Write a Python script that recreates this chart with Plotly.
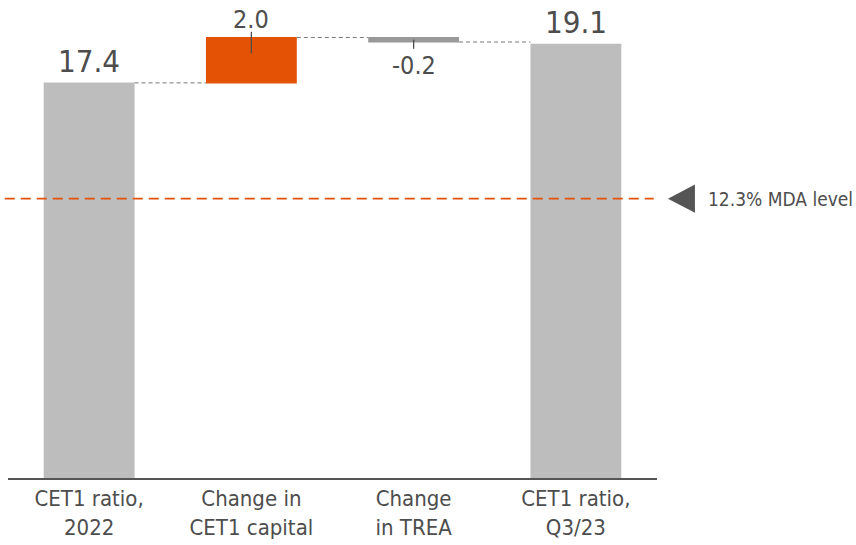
import plotly.graph_objects as go

categories = ["CET1 ratio,<br>2022", "Change in<br>CET1 capital", "Change<br>in TREA", "CET1 ratio,<br>Q3/23"]
measures = ["absolute", "relative", "relative", "absolute"]
values = [17.4, 2.0, -0.2, 19.1]
value_labels = ["17.4", "2.0", "-0.2", "19.1"]
mda_level = 12.3
mda_label = "12.3% MDA level"

FONT = "Liberation Sans Narrow, DejaVu Sans Condensed, sans-serif"
TXT = "#4d4d4d"
GRAY = "#bdbdbd"
DGRAY = "#999999"
ORANGE = "#e35205"

fig = go.Figure(go.Waterfall(
    x=categories, y=values, measure=measures,
    totals=dict(marker=dict(color=GRAY)),
    increasing=dict(marker=dict(color=ORANGE)),
    decreasing=dict(marker=dict(color=DGRAY)),
    connector=dict(mode="between", line=dict(color="#777777", width=1, dash="4px,3px")),
    width=0.56, textposition="none", hoverinfo="skip",
))

# running levels
levels = []
run = 0
for m, v in zip(measures, values):
    if m == "absolute":
        start, run = 0, v
    else:
        start, run = run, run + v
    levels.append((start, run))

annotations = []
shapes = []
for i, (cat, lab, (s, e), m) in enumerate(zip(categories, value_labels, levels, measures)):
    top = max(s, e)
    bot = min(s, e)
    if m == "absolute":
        annotations.append(dict(x=cat, y=top, text=lab, showarrow=False, yanchor="bottom",
                                yshift=2, font=dict(size=31, color=TXT, family=FONT)))
    elif e >= s:
        annotations.append(dict(x=cat, y=top, text=lab, showarrow=False, yanchor="bottom",
                                yshift=1, font=dict(size=25, color=TXT, family=FONT)))
        shapes.append(dict(type="line", xref="x", yref="y", x0=cat, x1=cat, y0=top + 0.25,
                           y1=top - 0.7, line=dict(color=TXT, width=1.3)))
    else:
        annotations.append(dict(x=cat, y=bot, text=lab, showarrow=False, yanchor="top",
                                yshift=-7, font=dict(size=25, color=TXT, family=FONT)))
        shapes.append(dict(type="line", xref="x", yref="y", x0=cat, x1=cat, y0=top - 0.1,
                           y1=bot - 0.3, line=dict(color=TXT, width=1.3)))

# MDA line
shapes.append(dict(type="line", xref="paper", yref="y", x0=-0.005, x1=0.995, y0=mda_level, y1=mda_level,
                   line=dict(color=ORANGE, width=1.8, dash="10px,6px")))
# triangle marker
shapes.append(dict(type="path", xref="paper", yref="y",
                   path=f"M 1.0169,{mda_level} L 1.0585,{mda_level + 0.62} L 1.0585,{mda_level - 0.62} Z",
                   fillcolor="#555555", line=dict(width=0)))
annotations.append(dict(xref="paper", yref="y", x=1.075, y=mda_level, text=mda_label, showarrow=False,
                        xanchor="left", yanchor="middle", font=dict(size=19, color=TXT, family=FONT)))

fig.update_layout(
    width=856, height=545,
    margin=dict(l=8, r=199, t=0, b=67),
    paper_bgcolor="white", plot_bgcolor="white",
    showlegend=False,
    shapes=shapes, annotations=annotations,
    xaxis=dict(showgrid=False, showline=True, linecolor="#555555", linewidth=1.5,
               ticks="", tickfont=dict(size=22, color=TXT, family=FONT)),
    yaxis=dict(range=[0, 21.05], visible=False, showgrid=False, zeroline=False),
)
fig.write_html("out.html", config={"displayModeBar": False},
               post_script="document.body.style.margin='0';document.body.style.overflow='hidden';")
